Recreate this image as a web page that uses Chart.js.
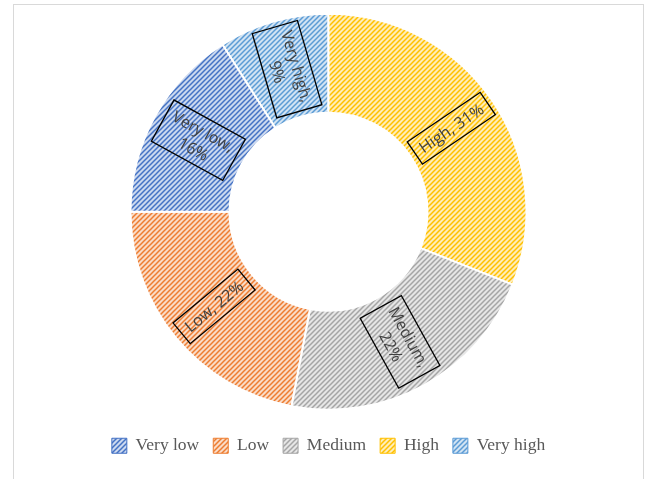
<!DOCTYPE html>
<html>
<head>
<meta charset="utf-8">
<script src="https://cdn.jsdelivr.net/npm/chart.js@4"></script>
<style>
    body { margin: 0; background: #fff; }
    #wrap { position: relative; width: 650px; height: 479px; overflow: hidden; }
    #frame { position: absolute; left: 13px; top: 4px; width: 631px; height: 520px; border: 1px solid #d9d9d9; box-sizing: border-box; }
    #chartBox { position: absolute; left: 0; top: 0; width: 650px; height: 479px; }
</style>
</head>
<body>
<div id="wrap">
    <div id="frame"></div>
    <div id="chartBox"><canvas id="ratingChart"></canvas></div>
</div>
<script>
// legend order (same order the values are listed in)
const categories = ['Very low', 'Low', 'Medium', 'High', 'Very high'];
const shares = [16, 22, 22, 31, 9];
const colors = ['#4472C4', '#ED7D31', '#A5A5A5', '#FFC000', '#5B9BD5'];

// hatched fill, like the excel "wide upward diagonal" pattern
function makePattern(color) {
    const c = document.createElement('canvas');
    c.width = 5;
    c.height = 5;
    const x = c.getContext('2d');
    x.fillStyle = '#fff';
    x.fillRect(0, 0, 5, 5);
    x.globalAlpha = 0.28;
    x.fillStyle = color;
    x.fillRect(0, 0, 5, 5);
    x.globalAlpha = 1;
    x.strokeStyle = color;
    x.lineWidth = 1.5;
    x.beginPath();
    x.moveTo(-1, 6); x.lineTo(6, -1);
    x.moveTo(-4, 4); x.lineTo(4, -4);
    x.moveTo(1, 9); x.lineTo(9, 1);
    x.stroke();
    return x.createPattern(c, 'repeat');
}
const patterns = colors.map(makePattern);

// the slices run counter-clockwise in the original, so draw them reversed
const order = categories.map((_, i) => categories.length - 1 - i);
const total = shares.reduce((a, b) => a + b, 0);

const labelBoxes = {
    id: 'labelBoxes',
    afterDatasetsDraw(chart) {
        const ctx = chart.ctx;
        const meta = chart.getDatasetMeta(0);
        ctx.save();
        ctx.font = '16px "Open Sans"';
        ctx.textAlign = 'center';
        ctx.textBaseline = 'middle';
        meta.data.forEach((arc, i) => {
            const p = arc.getProps(['x', 'y', 'startAngle', 'endAngle', 'innerRadius', 'outerRadius'], true);
            const k = order[i];
            const full = categories[k] + ', ' + shares[k] + '%';
            let lines = [full];
            if (ctx.measureText(full).width > 85) lines = [categories[k] + ',', shares[k] + '%'];
            const mid = (p.startAngle + p.endAngle) / 2;
            const r = (p.innerRadius + p.outerRadius) / 2;
            const cx = p.x + Math.cos(mid) * r;
            const cy = p.y + Math.sin(mid) * r;
            let rot = mid;
            while (rot > Math.PI / 2) rot -= Math.PI;
            while (rot <= -Math.PI / 2) rot += Math.PI;
            const w = Math.max(...lines.map(l => ctx.measureText(l).width)) + 14;
            const lh = 20;
            const h = lines.length * lh + 7;
            ctx.save();
            ctx.translate(cx, cy);
            ctx.rotate(rot);
            ctx.strokeStyle = '#000';
            ctx.lineWidth = 1.3;
            ctx.strokeRect(-w / 2, -h / 2, w, h);
            ctx.fillStyle = '#404040';
            lines.forEach((l, j) => {
                ctx.fillText(l, 0, (j - (lines.length - 1) / 2) * lh + 1);
            });
            ctx.restore();
        });
        ctx.restore();
    }
};

const ratingCtx = document.getElementById('ratingChart').getContext('2d');
new Chart(ratingCtx, {
    type: 'doughnut',
    data: {
        labels: order.map(k => categories[k]),
        datasets: [{
            data: order.map(k => shares[k]),
            backgroundColor: order.map(k => patterns[k]),
            borderColor: '#ffffff',
            borderWidth: 2,
            radius: 198,
            cutout: '50%'
        }]
    },
    options: {
        responsive: true,
        maintainAspectRatio: false,
        animation: false,
        rotation: -shares[shares.length - 1] / total * 360,
        layout: { padding: { left: 10, right: 3, top: 0.5, bottom: 14.5 } },
        plugins: {
            tooltip: { enabled: false },
            legend: {
                position: 'bottom',
                labels: {
                    boxWidth: 15,
                    boxHeight: 15,
                    padding: 14,
                    color: '#595959',
                    font: { family: '"Liberation Serif", "Times New Roman", serif', size: 17.5 },
                    generateLabels() {
                        return categories.map((c, k) => ({
                            text: c,
                            fillStyle: patterns[k],
                            strokeStyle: colors[k],
                            lineWidth: 1,
                            fontColor: '#595959',
                            hidden: false,
                            index: order.indexOf(k)
                        }));
                    }
                }
            }
        }
    },
    plugins: [labelBoxes]
});
</script>
</body>
</html>
